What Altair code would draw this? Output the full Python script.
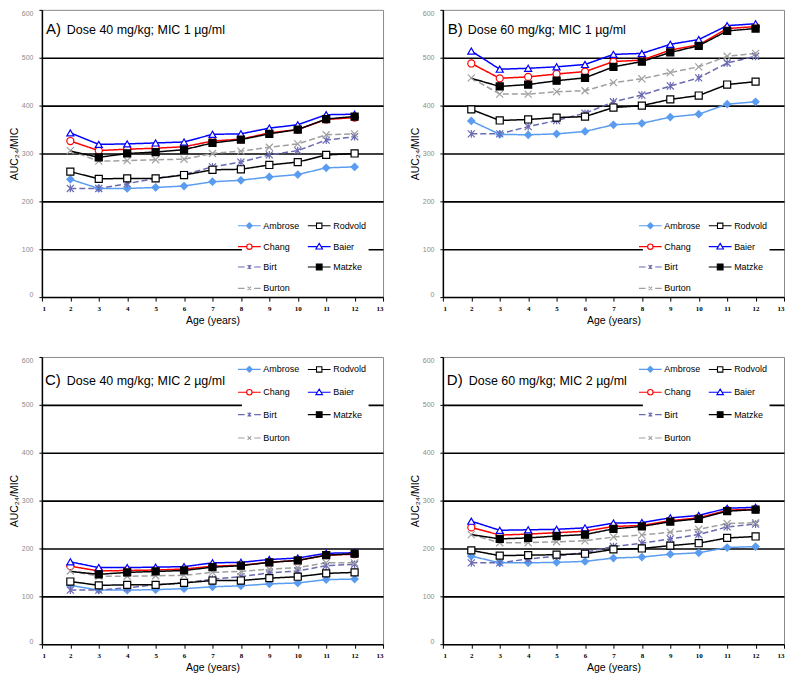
import altair as alt
import pandas as pd

AGES = [2, 3, 4, 5, 6, 7, 8, 9, 10, 11, 12]
# order chosen so the two-column legend reads: Ambrose/Rodvold, Chang/Baier, Birt/Matzke, Burton
SERIES = ["Ambrose", "Chang", "Birt", "Burton", "Rodvold", "Baier", "Matzke"]
COLORS = ["#5a9cf0", "#ff0000", "#6a6ab2", "#a0a0a0", "#000000", "#0000ff", "#000000"]
FILLS = ["#5a9cf0", "#ffffff", "transparent", "transparent", "#ffffff", "#ffffff", "#000000"]
DASHES = [[1, 0], [1, 0], [6, 3], [6, 3], [1, 0], [1, 0], [1, 0]]
WIDTHS = [1.5, 1.5, 1.2, 1.2, 1.0, 1.5, 1.5]
X_TICKS = list(range(1, 14))
Y_TICKS = [0, 100, 200, 300, 400, 500, 600]
PANEL_LETTERS = ["A)", "B)", "C)", "D)"]
PANEL_TEXTS = ["Dose 40 mg/kg; MIC 1 µg/ml", "Dose 60 mg/kg; MIC 1 µg/ml",
               "Dose 40 mg/kg; MIC 2 µg/ml", "Dose 60 mg/kg; MIC 2 µg/ml"]

# Panel A: 40 mg/kg, MIC 1
a_ambrose = [246, 227, 227, 229, 232, 241, 244, 251, 256, 270, 272]
a_rodvold = [262, 247, 248, 248, 255, 266, 267, 276, 282, 297, 300]
a_chang = [326, 306, 309, 311, 314, 326, 330, 343, 350, 371, 375]
a_baier = [343, 319, 320, 322, 324, 340, 341, 353, 360, 381, 382]
a_birt = [227, 227, 237, 248, 256, 272, 282, 297, 306, 328, 335]
a_matzke = [305, 292, 300, 303, 308, 322, 329, 341, 350, 372, 377]
a_burton = [306, 284, 285, 287, 288, 300, 305, 313, 320, 339, 341]
# Panel B: 60 mg/kg, MIC 1
b_ambrose = [368, 340, 339, 341, 346, 360, 363, 376, 382, 403, 408]
b_rodvold = [392, 369, 371, 375, 377, 396, 400, 413, 421, 444, 450]
b_chang = [488, 457, 460, 466, 471, 492, 495, 516, 527, 561, 565]
b_baier = [514, 476, 478, 481, 486, 507, 509, 528, 538, 567, 571]
b_birt = [341, 341, 356, 369, 384, 408, 422, 441, 458, 489, 503]
b_matzke = [457, 440, 444, 452, 458, 481, 492, 511, 525, 556, 561]
b_burton = [458, 424, 424, 429, 431, 448, 456, 469, 481, 503, 509]
# Panel C: 40 mg/kg, MIC 2
c_ambrose = [123, 113, 113, 114, 116, 120, 122, 126, 128, 135, 136]
c_rodvold = [131, 123, 124, 124, 128, 133, 133, 138, 141, 148, 150]
c_chang = [163, 153, 154, 155, 157, 163, 165, 171, 175, 186, 188]
c_baier = [172, 160, 160, 161, 162, 170, 171, 177, 180, 190, 191]
c_birt = [113, 113, 118, 124, 128, 136, 141, 149, 153, 164, 167]
c_matzke = [152, 146, 150, 152, 154, 161, 164, 171, 175, 186, 189]
c_burton = [153, 142, 142, 143, 144, 150, 152, 157, 160, 170, 170]
# Panel D: 60 mg/kg, MIC 2
d_ambrose = [184, 170, 170, 171, 173, 180, 182, 188, 191, 202, 204]
d_rodvold = [196, 185, 186, 187, 189, 198, 200, 206, 211, 222, 225]
d_chang = [244, 228, 230, 233, 236, 246, 248, 258, 264, 280, 282]
d_baier = [257, 238, 239, 240, 243, 253, 254, 264, 269, 284, 286]
d_birt = [170, 170, 178, 184, 192, 204, 211, 220, 229, 245, 251]
d_matzke = [229, 220, 222, 226, 229, 241, 246, 256, 262, 278, 281]
d_burton = [229, 212, 212, 214, 216, 224, 228, 234, 240, 252, 254]

# per panel, in SERIES order
PANEL_DATA = [
    [a_ambrose, a_chang, a_birt, a_burton, a_rodvold, a_baier, a_matzke],
    [b_ambrose, b_chang, b_birt, b_burton, b_rodvold, b_baier, b_matzke],
    [c_ambrose, c_chang, c_birt, c_burton, c_rodvold, c_baier, c_matzke],
    [d_ambrose, d_chang, d_birt, d_burton, d_rodvold, d_baier, d_matzke],
]

SANS = "Liberation Sans"
SERIF = "Liberation Serif"

X_PATH = "M-1,-1L1,1M-1,1L1,-1"
ASTER_PATH = "M-1,-1L1,1M-1,1L1,-1M0,-1.1L0,1.1"
PLOT_SHAPES = ["diamond", "circle", ASTER_PATH, X_PATH, "square", "triangle-up", "square"]

LEGEND_SHAPES = [
    "M-1.9,0L1.9,0M0,-0.5L0.5,0L0,0.5L-0.5,0Z",
    "M-1.9,0L-0.45,0M0.45,0L1.9,0M-0.45,0A0.45,0.45 0 1,0 0.45,0A0.45,0.45 0 1,0 -0.45,0Z",
    "M-1.9,0L-0.8,0M0.8,0L1.9,0M-0.3,-0.3L0.3,0.3M-0.3,0.3L0.3,-0.3M0,-0.35L0,0.35",
    "M-1.9,0L-0.8,0M0.8,0L1.9,0M-0.3,-0.3L0.3,0.3M-0.3,0.3L0.3,-0.3",
    "M-1.9,0L-0.45,0M0.45,0L1.9,0M-0.45,-0.45L0.45,-0.45L0.45,0.45L-0.45,0.45Z",
    "M-1.9,0L-0.32,0M0.32,0L1.9,0M0,-0.55L0.55,0.4L-0.55,0.4Z",
    "M-1.9,0L1.9,0M-0.48,-0.48L0.48,-0.48L0.48,0.48L-0.48,0.48Z",
]

W, H = 342, 288


def panel(idx, legend_y, row_pad, letter_x, text_x, text_y):
    rows = []
    for s, vals in zip(SERIES, PANEL_DATA[idx]):
        for a, v in zip(AGES, vals):
            rows.append({"age": a, "value": v, "series": s})
    df = pd.DataFrame(rows)

    x = alt.X("age:Q", scale=alt.Scale(domain=[1, 13], nice=False, zero=False),
              axis=alt.Axis(values=X_TICKS, title="Age (years)", grid=False,
                            labelFont=SERIF, labelFontWeight="bold", labelFontSize=7,
                            labelColor="black", tickSize=4, tickColor="black",
                            domainColor="black", domainWidth=1.5, labelPadding=3,
                            titleFont=SANS, titleFontSize=10.5, titleFontWeight="normal",
                            titleColor="black", titlePadding=4, format="d"))
    y = alt.Y("value:Q", scale=alt.Scale(domain=[0, 600], nice=False),
              axis=alt.Axis(values=Y_TICKS, title="AUC₂₄/MIC", grid=True,
                            gridColor={"condition": {"test": "datum.value == 0 || datum.value == 600",
                                                     "value": "transparent"}, "value": "black"},
                            gridWidth=1.6, labelFont=SANS, labelFontSize=7, labelColor="#8a8a8a",
                            tickSize=3, tickColor="black", domainColor="black", domainWidth=1.5,
                            labelPadding=6, labelFlush=True, titleFont=SANS, titleFontSize=10.5,
                            titleFontWeight="normal", titleColor="black", titlePadding=2))

    stroke_scale = alt.Scale(domain=SERIES, range=COLORS)
    fill_scale = alt.Scale(domain=SERIES, range=FILLS)
    base = alt.Chart(df)

    lines = base.mark_line().encode(
        x=x, y=y,
        stroke=alt.Stroke("series:N", scale=stroke_scale, legend=None),
        strokeDash=alt.StrokeDash("series:N", scale=alt.Scale(domain=SERIES, range=DASHES), legend=None),
        strokeWidth=alt.StrokeWidth("series:N", scale=alt.Scale(domain=SERIES, range=WIDTHS), legend=None),
    )
    # Matzke has no marker drawn at age 2 in the original figure
    points = base.transform_filter(
        "!(datum.series == 'Matzke' && datum.age == 2)"
    ).mark_point(size=50, opacity=1, strokeWidth=1.2).encode(
        x=x, y=y,
        shape=alt.Shape("series:N", scale=alt.Scale(domain=SERIES, range=PLOT_SHAPES), legend=None),
        stroke=alt.Stroke("series:N", scale=stroke_scale, legend=None),
        fill=alt.Fill("series:N", scale=fill_scale, legend=None),
    )
    leg = alt.Legend(title=None, orient="none", legendX=200, legendY=legend_y, columns=2,
                     symbolSize=144, symbolStrokeWidth=1.1, labelFont=SANS, labelFontSize=9,
                     labelColor="black", labelOffset=7, columnPadding=5, rowPadding=row_pad,
                     padding=1, fillColor="white", strokeColor="transparent", labelLimit=200)
    legend_layer = base.transform_filter("false").mark_point(opacity=1).encode(
        x=x, y=y,
        shape=alt.Shape("series:N", scale=alt.Scale(domain=SERIES, range=LEGEND_SHAPES), legend=leg),
        stroke=alt.Stroke("series:N", scale=stroke_scale, legend=leg),
        fill=alt.Fill("series:N", scale=fill_scale, legend=leg),
    )
    letter = alt.Chart(pd.DataFrame({"t": [PANEL_LETTERS[idx]]})).mark_text(
        align="left", baseline="alphabetic", font=SANS, fontSize=15, color="black"
    ).encode(text="t:N", x=alt.value(letter_x), y=alt.value(text_y))
    label = alt.Chart(pd.DataFrame({"t": [PANEL_TEXTS[idx]]})).mark_text(
        align="left", baseline="alphabetic", font=SANS, fontSize=12.5, color="black"
    ).encode(text="t:N", x=alt.value(text_x), y=alt.value(text_y))

    return alt.layer(lines, points, legend_layer, letter, label).resolve_scale(
        shape="independent", stroke="independent", fill="independent",
        strokeDash="independent", strokeWidth="independent"
    ).properties(width=W, height=H)


pa = panel(0, 208, 8.4, 4, 25, 24)
pb = panel(1, 208, 8.4, 5, 25, 24)
pc = panel(2, 4, 10.4, 3, 25, 28)
pd_ = panel(3, 4, 10.4, 4, 26, 28)

chart = alt.vconcat(
    alt.hconcat(pa, pb, spacing=25),
    alt.hconcat(pc, pd_, spacing=25),
    spacing=30,
).properties(
    padding={"left": 0, "top": 0, "right": 0, "bottom": 0}
).configure_view(stroke="#8a8a8a", strokeWidth=1)

chart.save("out.html", embed_options={"renderer": "svg", "actions": False})
